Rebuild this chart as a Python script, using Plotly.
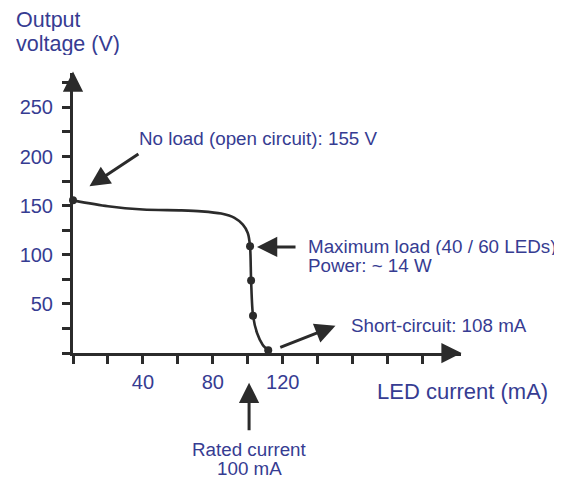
import plotly.graph_objects as go

# ---- data ----
current_ma = [0, 20, 40, 62.1, 73.5, 84.8, 92.4, 97.2, 100.0, 101.3, 101.9, 103.0, 105.3, 108.5, 111.7]
voltage_v = [155.4, 149.3, 146.0, 145.2, 144.2, 141.9, 137.5, 130.6, 122.2, 108.6, 73.9, 38.0, 20.4, 8.5, 2.7]
marker_current = [0, 101.3, 101.9, 103.0, 111.7]
marker_voltage = [155.4, 108.6, 73.9, 38.0, 2.7]

x_tickvals = [0, 20, 40, 60, 80, 100, 120, 140, 160, 180, 200]
x_ticktext = ["", "", "40", "", "80", "", "120", "", "", "", ""]
y_tickvals = [0, 25, 50, 75, 100, 125, 150, 175, 200, 225, 250, 275]
y_ticktext = ["", "", "50", "", "100", "", "150", "", "200", "", "250", ""]

TXT = "#363c92"
AX = "#2b2b2b"
FONT = "Liberation Sans, Arial, sans-serif"

# page offset (body margin) compensation
OFF = 8
W, H = 562 - OFF, 479 - OFF
L, T = 70.7 - OFF, 73.4 - OFF
PW, PH = 390.7, 279.9

def px_x(px):
    return (px - OFF - L) / PW

def px_y(py):
    return 1 - (py - OFF - T) / PH

fig = go.Figure()
fig.add_trace(go.Scatter(x=current_ma, y=voltage_v, mode="lines",
                         line=dict(color=AX, width=2.6, shape="spline", smoothing=0.8),
                         hoverinfo="skip", cliponaxis=False))
fig.add_trace(go.Scatter(x=marker_current, y=marker_voltage, mode="markers",
                         marker=dict(color=AX, size=8), cliponaxis=False, hoverinfo="skip"))

annotations = []
def txt(px, py, text, size=18.8, xanchor="left", height=None):
    a = dict(x=px_x(px), y=px_y(py), xref="paper", yref="paper", text=text,
             showarrow=False, xanchor=xanchor, yanchor="middle",
             font=dict(family=FONT, size=size, color=TXT))
    if height is not None:
        a["height"] = height
    annotations.append(a)

def arrow(hx, hy, tx, ty, width=3, size=1.35):
    annotations.append(dict(x=px_x(hx), y=px_y(hy), xref="paper", yref="paper",
                            ax=tx - hx, ay=ty - hy, text="",
                            showarrow=True, arrowhead=2, arrowsize=size, arrowwidth=width,
                            arrowcolor=AX, standoff=0))

txt(135, 138.7, "No load (open circuit): 155 V")
txt(305.5, 247.3, "Maximum load (40 / 60 LEDs)", height=17)
txt(305.5, 265.8, "Power: ~ 14 W", height=17)
txt(349, 325.7, "Short-circuit: 108 mA")
txt(248.3, 449.5, "Rated current", xanchor="center")
txt(248.3, 469, "100 mA", xanchor="center")
txt(375, 392.2, "LED current (mA)", size=22)
txt(11.5, 20.0, "Output", size=21.5, height=22)
txt(11.5, 44.0, "voltage (V)", size=21.5, height=22)

arrow(87.3, 186.7, 137.7, 153.3)
arrow(256, 247.3, 296, 247.3)
arrow(335, 326, 278.3, 348.3)
arrow(248, 383, 248, 432)
# axis arrowheads
arrow(462, 353.3, 448, 353.3)
arrow(70.7, 72, 70.7, 86)

fig.update_layout(
    width=W, height=H,
    margin=dict(l=L, r=W - L - PW, t=T, b=H - T - PH),
    paper_bgcolor="white", plot_bgcolor="white",
    showlegend=False,
    font=dict(family=FONT, color=TXT),
    annotations=annotations,
    xaxis=dict(range=[0, 222], tickvals=x_tickvals, ticktext=x_ticktext,
               ticks="outside", ticklen=8, tickwidth=3, tickcolor=AX,
               showline=True, linewidth=3, linecolor=AX, showgrid=False, zeroline=False,
               tickfont=dict(family=FONT, size=20, color=TXT), ticklabelstandoff=1),
    yaxis=dict(range=[0, 285], tickvals=y_tickvals, ticktext=y_ticktext,
               ticks="outside", ticklen=8, tickwidth=3, tickcolor=AX,
               showline=True, linewidth=3, linecolor=AX, showgrid=False, zeroline=False,
               tickfont=dict(family=FONT, size=20, color=TXT), ticklabelstandoff=5),
)

fig.write_html("out.html")
